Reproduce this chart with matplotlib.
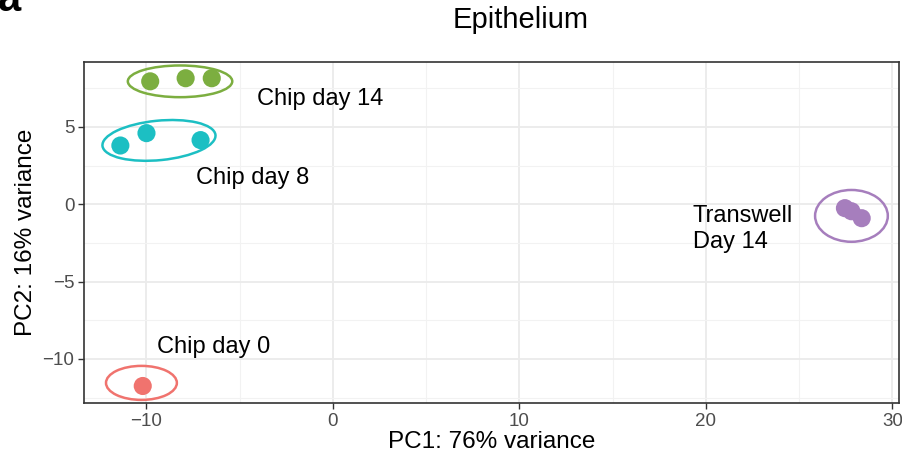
import numpy as np
import matplotlib
matplotlib.use('Agg')
import matplotlib.pyplot as plt
from matplotlib.patches import Ellipse

plt.rcParams['font.family'] = ['Liberation Sans', 'DejaVu Sans']

# PCA scores per group
groups = ['Chip day 0', 'Chip day 8', 'Chip day 14', 'Transwell\nDay 14']
colors = ['#F0736E', '#1CBFC3', '#7CAE40', '#A67EBD']
pc1 = [[-10.2], [-11.4, -10.0, -7.1], [-9.8, -7.9, -6.5], [27.45, 27.8, 28.35]]
pc2 = [[-11.75], [3.8, 4.6, 4.15], [7.95, 8.15, 8.15], [-0.25, -0.45, -0.9]]

# ellipse centre, width, height, angle for each group
ell_center = [(-10.27, -11.55), (-9.33, 4.13), (-8.2, 7.95), (27.8, -0.75)]
ell_width = [3.8, 6.1, 5.6, 3.9]
ell_height = [2.2, 2.55, 2.05, 3.35]
ell_angle = [0, 7, 0, 0]

# label positions
label_pos = [(-9.45, -9.25), (-7.35, 1.72), (-4.1, 6.82), (19.3, -1.6)]

xticks = [-10, 0, 10, 20, 30]
yticks = [-10, -5, 0, 5]

fig = plt.figure(figsize=(9.02, 4.59), dpi=100)
ax = fig.add_axes([84 / 902, 1 - 403 / 459, (899 - 84) / 902, (403 - 62) / 459])

for i in range(len(groups)):
    ax.scatter(pc1[i], pc2[i], s=170, color=colors[i], edgecolors='none', zorder=3)
    e = Ellipse(ell_center[i], ell_width[i], ell_height[i], angle=ell_angle[i],
                fill=False, edgecolor=colors[i], lw=1.8, zorder=3)
    ax.add_patch(e)
    ax.text(label_pos[i][0], label_pos[i][1], groups[i], fontsize=17,
            va='center', ha='left', linespacing=1.2, zorder=4)

ax.set_xlim(-13.35, 30.35)
ax.set_ylim(-12.85, 9.2)
ax.set_xticks(xticks)
ax.set_yticks(yticks)
ax.set_xticks([-5, 5, 15, 25], minor=True)
ax.set_yticks([-12.5, -7.5, -2.5, 2.5, 7.5], minor=True)
ax.set_xticklabels(['\u221210', '0', '10', '20', '30'])
ax.set_yticklabels(['\u221210', '\u22125', '0', '5'])
ax.grid(which='major', color='#EBEBEB', lw=1.3, zorder=0)
ax.grid(which='minor', color='#F2F2F2', lw=0.8, zorder=0)
ax.set_axisbelow(True)
ax.tick_params(which='major', length=4, width=1, color='#333333',
               labelcolor='#4D4D4D', labelsize=13.5, pad=3)
ax.tick_params(which='minor', length=0)
for s in ax.spines.values():
    s.set_color('#333333')
    s.set_linewidth(1.2)

ax.set_xlabel('PC1: 76% variance', fontsize=17.5, labelpad=1)
ax.set_ylabel('PC2: 16% variance', fontsize=17.5, labelpad=4)
fig.text(521 / 902, 1 - 20 / 459, 'Epithelium', fontsize=21, ha='center', va='center')
fig.text(-0.003, 1.0, 'a', fontsize=30, fontweight='bold', ha='left', va='center')

fig.savefig('out.png', dpi=100)
